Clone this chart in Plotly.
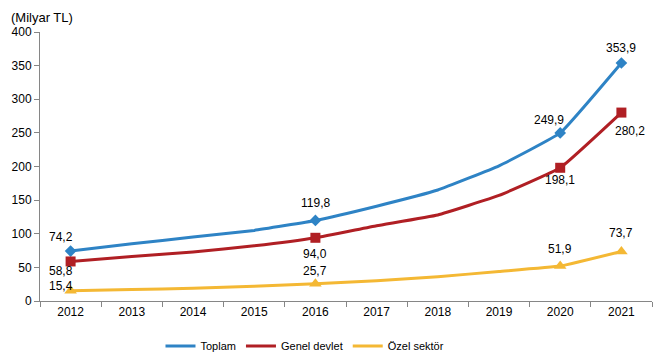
import plotly.graph_objects as go

years = [2012, 2013, 2014, 2015, 2016, 2017, 2018, 2019, 2020, 2021]
toplam = [74.2, 85, 95, 105, 119.8, 141, 165, 201, 249.9, 353.9]
genel = [58.8, 66, 73, 82, 94.0, 112, 128, 157, 198.1, 280.2]
ozel = [15.4, 17, 19, 22, 25.7, 30, 36, 44, 51.9, 73.7]
labeled_idx = [0, 4, 8, 9]
y_ticks = [0, 50, 100, 150, 200, 250, 300, 350, 400]

FONT = "Liberation Sans, Arial, sans-serif"
series = [
    ("Toplam", toplam, "#2E83C5", "diamond", 9,
     [(-10, 14), (0, 17), (-11, 13), (0, 15)]),
    ("Genel devlet", genel, "#B01F24", "square", 10,
     [(-10, -10), (0, -16), (0, -12), (9, -18)]),
    ("Özel sektör", ozel, "#F4B834", "triangle-up", 11,
     [(-10, 5), (0, 13), (0, 17), (0, 18)]),
]

fig = go.Figure()
for name, vals, color, sym, msize, offs in series:
    fig.add_trace(go.Scatter(x=years, y=vals, mode="lines", name=name,
                             line=dict(color=color, width=3, shape="spline", smoothing=0.3)))
    fig.add_trace(go.Scatter(x=[years[i] for i in labeled_idx], y=[vals[i] for i in labeled_idx],
                             mode="markers", showlegend=False, hoverinfo="skip",
                             marker=dict(symbol=sym, size=msize, color=color)))
    for i, (dx, dy) in zip(labeled_idx, offs):
        fig.add_annotation(x=years[i], y=vals[i], text=f"{vals[i]:.1f}".replace(".", ","),
                           showarrow=False, xshift=dx, yshift=dy,
                           font=dict(family=FONT, size=12, color="#000000"))

fig.add_annotation(xref="paper", yref="paper", x=-0.051, y=1.055, xanchor="left", yanchor="middle",
                   text="(Milyar TL)", showarrow=False,
                   font=dict(family=FONT, size=13, color="#000000"))

boundaries = [y - 0.5 for y in years] + [years[-1] + 0.5]

fig.update_layout(
    width=660, height=361,
    margin=dict(l=40, r=8, t=32, b=60),
    paper_bgcolor="white", plot_bgcolor="white",
    font=dict(family=FONT, size=12, color="#000000"),
    showlegend=True,
    legend=dict(orientation="h", x=0.433, xanchor="center", yref="container",
                y=1 - 346 / 361, yanchor="middle",
                font=dict(family=FONT, size=11, color="#000000"), itemwidth=30),
    xaxis=dict(range=[years[0] - 0.5, years[-1] + 0.5], tickvals=years,
               ticktext=[str(y) for y in years], showgrid=False, showline=True,
               linecolor="#868686", linewidth=1, ticks="", zeroline=False,
               tickfont=dict(family=FONT, size=12),
               minor=dict(tickvals=boundaries, ticks="outside", ticklen=5,
                          tickcolor="#868686", showgrid=False)),
    yaxis=dict(range=[0, 400], tickvals=y_ticks, showgrid=False, showline=True,
               linecolor="#868686", linewidth=1, ticks="outside", ticklen=5,
               tickcolor="#868686", zeroline=False, tickfont=dict(family=FONT, size=12)),
)

fig.write_html("out.html", config={"displayModeBar": False},
               post_script="document.body.style.margin='0';")
